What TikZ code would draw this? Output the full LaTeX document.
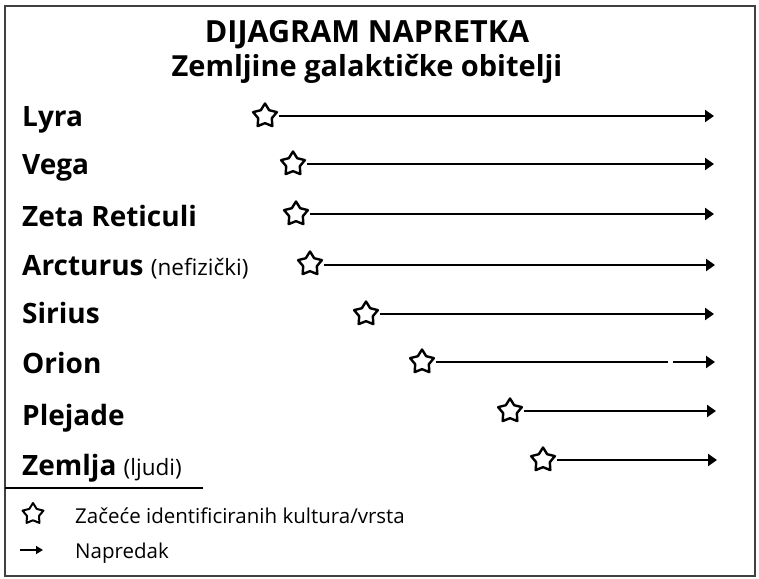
\documentclass[tikz,border=0pt]{standalone}
\usepackage{fontspec}
\setmainfont{Open Sans}
\usetikzlibrary{shapes.geometric,arrows.meta}
\newcommand\subfnt{\fontsize{22.5}{26}\selectfont\mdseries}
\begin{document}
\begin{tikzpicture}[x=1pt,y=-1pt,
  title/.style={font=\fontsize{29}{34}\selectfont\bfseries, inner sep=0, anchor=base},
  lbl/.style={anchor=base west, font=\fontsize{28}{32}\selectfont\bfseries, inner sep=0},
  legtxt/.style={anchor=base west, font=\fontsize{20.5}{25}\selectfont, inner sep=0},
  st/.style={star, star points=5, star point ratio=1.75, draw, line width=2.4pt, line join=round, minimum size=25pt, inner sep=0, fill=white},
  stsmall/.style={st, minimum size=22pt, line width=2pt},
  prog/.style={-{Triangle[length=9pt,width=12pt]}, line width=2.8pt, shorten <=4pt},
  seg/.style={line width=2.8pt, shorten <=4pt},
]
\useasboundingbox (0,0) rectangle (759,578);
\draw[line width=1.8pt, black!75] (5,6) rectangle (755,576);

\node[title, font=\fontsize{30.5}{34}\selectfont\bfseries] (t1) at (367,43) {DIJAGRAM NAPRETKA};
\node[title] (t2) at (367,76) {Zemljine galaktičke obitelji};

\node[lbl] (l1) at (22,126) {Lyra};
\node[lbl] (l2) at (22,174) {Vega};
\node[lbl] (l3) at (22,226) {Zeta Reticuli};
\node[lbl] (l4) at (22,275) {Arcturus {\subfnt(nefizički)}};
\node[lbl] (l5) at (22,323) {Sirius};
\node[lbl] (l6) at (22,373) {Orion};
\node[lbl] (l7) at (22,425) {Plejade};
\node[lbl] (l8) at (22,475) {Zemlja {\subfnt(ljudi)}};

\node[st] (s1) at (265,116) {};
\node[st] (s2) at (293,164) {};
\node[st] (s3) at (296,214) {};
\node[st] (s4) at (310,264) {};
\node[st] (s5) at (366,314) {};
\node[st] (s6) at (422,362) {};
\node[st] (s7) at (510,411) {};
\node[st] (s8) at (543,460) {};

\coordinate (e1) at (714,116);
\coordinate (e2) at (714,164);
\coordinate (e3) at (714,214);
\coordinate (e4) at (715,265);
\coordinate (e5) at (714,314);
\coordinate (e6) at (715,362);
\coordinate (e7) at (716,411);
\coordinate (e8) at (717,460);
\coordinate (g1) at (668,362);
\coordinate (g2) at (673,362);

\draw[prog] (s1) -- (e1);
\draw[prog] (s2) -- (e2);
\draw[prog] (s3) -- (e3);
\draw[prog] (s4.east |- e4) -- (e4);
\draw[prog] (s5) -- (e5);
\draw[seg] (s6) -- (g1);
\draw[prog, shorten <=0pt] (g2) -- (e6);
\draw[prog] (s7) -- (e7);
\draw[prog] (s8) -- (e8);

\coordinate (d1) at (5,488);
\coordinate (d2) at (203,488);
\draw[line width=1.6pt] (d1) -- (d2);

\node[stsmall] (ls) at (33,514) {};
\node[legtxt] (lt1) at (75,523) {Začeće identificiranih kultura/vrsta};
\coordinate (la1) at (20,550);
\coordinate (la2) at (43,550);
\draw[-{Triangle[length=7pt,width=8pt]}, line width=1.6pt] (la1) -- (la2);
\node[legtxt] (lt2) at (75,558) {Napredak};
\end{tikzpicture}
\end{document}
